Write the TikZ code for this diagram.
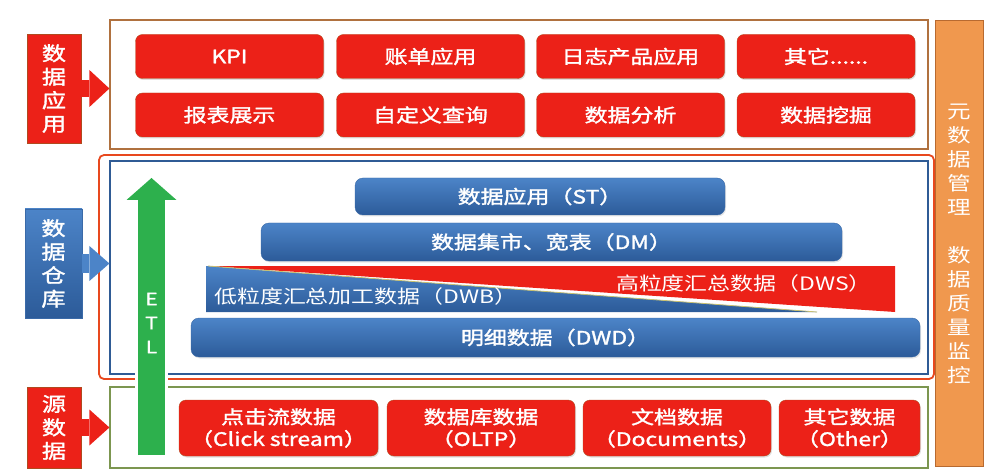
\documentclass[tikz,border=0pt]{standalone}
\usepackage{fontspec}
\setmainfont{Noto Sans CJK SC}[FakeStretch=1.24, BoldFont=Noto Sans CJK SC, BoldFeatures={FakeBold=1.6}]
\usepackage{xcolor}
\usepackage{tikz}
\usetikzlibrary{arrows.meta, shadows}
\definecolor{btnred}{HTML}{EC2118}
\definecolor{btnedge}{HTML}{B04A1E}
\definecolor{barhi}{HTML}{4C84C8}
\definecolor{barlo}{HTML}{2C5B99}
\definecolor{barline}{HTML}{3A6AA8}
\definecolor{etlgreen}{HTML}{2DB04D}
\definecolor{metaorange}{HTML}{F0984E}
\definecolor{metaedge}{HTML}{B86A30}
\definecolor{appbrown}{HTML}{B0713F}
\definecolor{whred}{HTML}{E8481E}
\definecolor{whblue}{HTML}{2F5B95}
\definecolor{srcolive}{HTML}{7C9650}
\definecolor{wedgeline}{HTML}{C8C070}

\begin{document}
\begin{tikzpicture}[x=1pt, y=-1pt,
    redbtn/.style={draw=btnedge, fill=btnred, rounded corners=7pt, text=white, align=center, inner sep=0pt,
        font=\fontsize{18.5}{22}\selectfont\bfseries, drop shadow={opacity=0.25, shadow xshift=1pt, shadow yshift=-1.5pt}},
    bluebar/.style={draw=barline, top color=barhi, bottom color=barlo, rounded corners=8pt, text=white,
        inner sep=0pt, font=\fontsize{18.5}{22}\selectfont\bfseries, drop shadow={opacity=0.2, shadow xshift=1pt, shadow yshift=-1.5pt}},
    sidelabel/.style={text=white, align=center, inner sep=0pt, font=\fontsize{19.5}{23.5}\selectfont\bfseries},
    framebox/.style={inner sep=0pt, line width=1.2pt},
    wedgetext/.style={text=white, inner sep=0pt, font=\fontsize{18.5}{22}\selectfont}]
    \useasboundingbox (0,0) rectangle (1004,473);

    % frames
    \node[framebox, draw=appbrown, minimum width=818pt, minimum height=129pt] (appframe) at (519,84.5) {};
    \node[framebox, draw=whred, line width=1.8pt, rounded corners=5pt, minimum width=835pt, minimum height=224pt] (whframe) at (516.5,267) {};
    \node[framebox, draw=whblue, minimum width=818pt, minimum height=213pt] (whinner) at (519,267.5) {};
    \node[framebox, draw=srcolive, minimum width=818pt, minimum height=81pt] (srcframe) at (519,427.5) {};

    % left labels and their arrows
    \node[sidelabel, fill=btnred, draw=btnedge, minimum width=54pt, minimum height=109pt] (lblapp) at (54,88.5) {数\\据\\应\\用};
    \node[sidelabel, draw=barline, top color=barhi, bottom color=barlo, minimum width=57pt, minimum height=109pt] (lblwh) at (53.5,263.5) {数\\据\\仓\\库};
    \node[sidelabel, fill=btnred, draw=btnedge, minimum width=54pt, minimum height=81pt] (lblsrc) at (54,427.5) {源\\数\\据};
    \draw[btnred, line width=17pt, -{Triangle[length=20pt, width=37pt, line width=0pt]}] (lblapp.east) -- (lblapp.east -| appframe.west);
    \draw[barhi, line width=19pt, -{Triangle[length=20pt, width=35pt, line width=0pt]}] (lblwh.east) -- (lblwh.east -| whinner.west);
    \draw[btnred, line width=17pt, -{Triangle[length=20pt, width=36pt, line width=0pt]}] (lblsrc.east) -- (lblsrc.east -| srcframe.west);

    % application row
    \node[redbtn, minimum width=188pt, minimum height=44pt] (kpi) at (229.5,56.5) {KPI};
    \node[redbtn, minimum width=188pt, minimum height=44pt] (bill) at (430.5,56.5) {账单应用};
    \node[redbtn, minimum width=188pt, minimum height=44pt] (logapp) at (630.5,56.5) {日志产品应用};
    \node[redbtn, minimum width=178pt, minimum height=44pt] (otherapp) at (826,56.5) {其它......};
    \node[redbtn, minimum width=188pt, minimum height=44pt] (report) at (229.5,115) {报表展示};
    \node[redbtn, minimum width=188pt, minimum height=44pt] (query) at (430.5,115) {自定义查询};
    \node[redbtn, minimum width=188pt, minimum height=44pt] (analysis) at (630.5,115) {数据分析};
    \node[redbtn, minimum width=178pt, minimum height=44pt] (mining) at (826,115) {数据挖掘};

    % warehouse layers
    \node[bluebar, minimum width=370pt, minimum height=37pt] (st) at (540,196.5) {数据应用（ST）};
    \node[bluebar, minimum width=581pt, minimum height=38pt] (dm) at (551.5,242) {数据集市、宽表（DM）};
    \fill[btnred] (208,266) -- (895,266) -- (895,312) -- cycle;
    \path[top color=barhi, bottom color=barlo] (206,266) -- (817,312) -- (206,312) -- cycle;
    \draw[wedgeline, line width=0.8pt] (208,266) -- (817,312);
    \node[wedgetext, anchor=west] (dwb) at (214,296) {低粒度汇总加工数据（DWB）};
    \node[wedgetext, anchor=east] (dws) at (872,283) {高粒度汇总数据（DWS）};
    \node[bluebar, minimum width=729pt, minimum height=39pt] (dwd) at (555.5,337.5) {明细数据（DWD）};

    % source row
    \node[redbtn, minimum width=199pt, minimum height=56pt] (click) at (278.5,428) {点击流数据\\（Click stream）};
    \node[redbtn, minimum width=188pt, minimum height=56pt] (oltp) at (481,428) {数据库数据\\（OLTP）};
    \node[redbtn, minimum width=188pt, minimum height=56pt] (docs) at (677,428) {文档数据\\（Documents）};
    \node[redbtn, minimum width=141pt, minimum height=56pt] (otherdata) at (849.5,428) {其它数据\\（Other）};

    % ETL arrow
    \coordinate (etlbase) at (151.5,455);
    \coordinate (etltip) at (151.5,178);
    \draw[white, line width=33pt, -{Triangle[length=26pt, width=58pt, line width=0pt]}] ([yshift=-3pt]etlbase) -- ([yshift=4pt]etltip);
    \draw[etlgreen, line width=27pt, -{Triangle[length=22pt, width=50pt, line width=0pt]}] (etlbase) -- (etltip);
    \node[sidelabel, font=\fontsize{17}{24}\selectfont\bfseries] (etl) at (151.5,323) {E\\T\\L};

    % meta data bar
    \node[draw=metaedge, fill=metaorange, line width=1pt, minimum width=48pt, minimum height=445pt, inner sep=0pt,
        text=white, align=center, font=\fontsize{19}{24}\selectfont] (meta) at (959,243.5)
        {元\\数\\据\\管\\理\\[24pt]数\\据\\质\\量\\监\\控};
\end{tikzpicture}
\end{document}
